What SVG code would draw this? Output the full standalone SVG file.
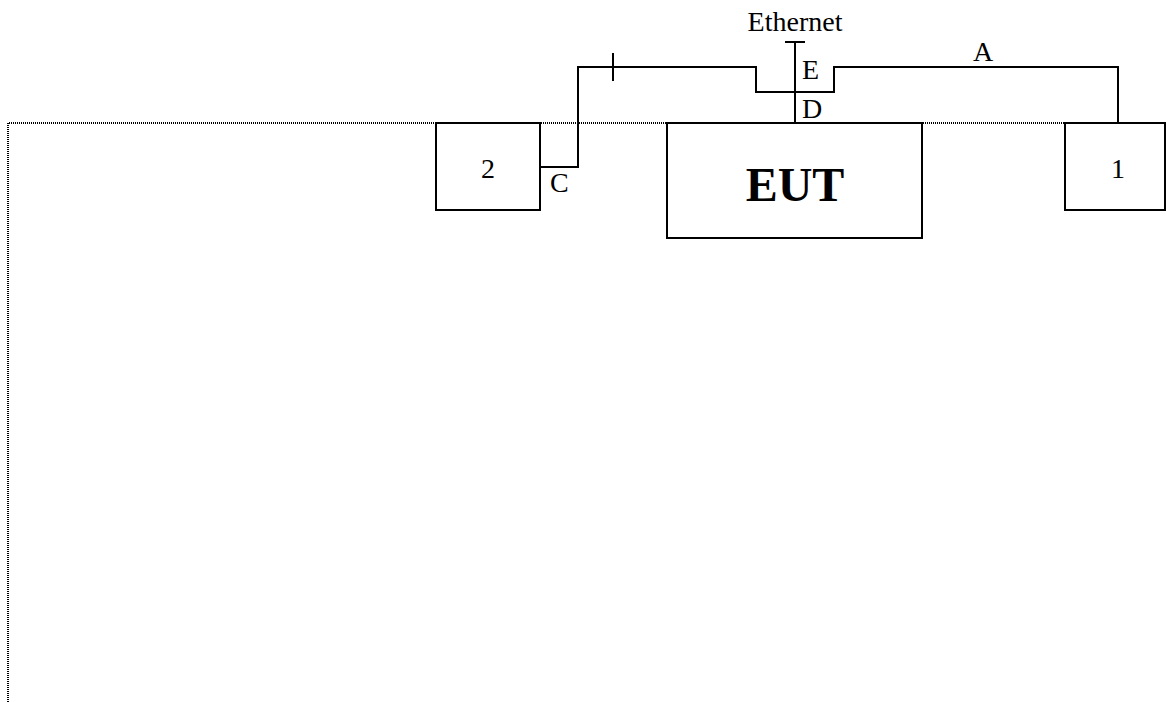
<svg xmlns="http://www.w3.org/2000/svg" width="1166" height="702" viewBox="0 0 1166 702">
<style>
.b{fill:#fff;stroke:#000;stroke-width:2}
.w{fill:none;stroke:#000;stroke-width:2}
.d{fill:none;stroke:#000;stroke-width:2;stroke-dasharray:1 1}
.t{font-family:"Liberation Serif",serif;font-size:28px;fill:#000}
</style>
<rect width="1166" height="702" fill="#fff"/>
<g id="frame"><path class="d" d="M8,702 V123 H1166"/></g>
<g id="connectors">
<path class="w" d="M540,167 H578 V67 H756 V92 H834 V67 H1118 V123"/>
<path class="w" d="M613,53 V81"/>
<path class="w" d="M795,123 V42 M785,42 H805"/>
</g>
<g id="node-2"><rect class="b" x="436" y="123" width="104" height="87"/><text class="t" x="488" y="178" text-anchor="middle">2</text></g>
<g id="node-eut"><rect class="b" x="667" y="123" width="255" height="115"/><text x="795" y="201" text-anchor="middle" font-family="Liberation Serif,serif" font-weight="bold" font-size="48">EUT</text></g>
<g id="node-1"><rect class="b" x="1065" y="123" width="100" height="87"/><text class="t" x="1118" y="178" text-anchor="middle">1</text></g>
<g id="labels">
<text class="t" x="795" y="31" text-anchor="middle">Ethernet</text>
<text class="t" x="802" y="79">E</text>
<text class="t" x="802" y="118">D</text>
<text class="t" x="983" y="61" text-anchor="middle">A</text>
<text class="t" x="550" y="192">C</text>
</g>
</svg>
